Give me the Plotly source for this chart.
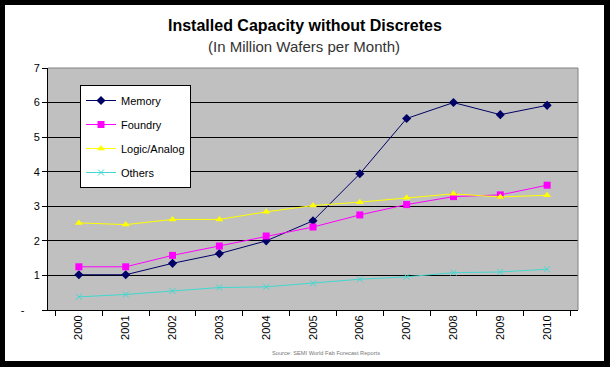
import plotly.graph_objects as go

years = ["2000", "2001", "2002", "2003", "2004", "2005", "2006", "2007", "2008", "2009", "2010"]
memory = [1.02, 1.02, 1.35, 1.63, 2.00, 2.58, 3.94, 5.54, 6.00, 5.65, 5.92]
foundry = [1.25, 1.25, 1.58, 1.85, 2.14, 2.40, 2.75, 3.05, 3.28, 3.33, 3.61]
logic = [2.52, 2.47, 2.62, 2.62, 2.84, 3.02, 3.12, 3.25, 3.36, 3.27, 3.32]
others = [0.38, 0.45, 0.55, 0.65, 0.67, 0.77, 0.89, 0.96, 1.08, 1.10, 1.18]
y_ticks = [0, 1, 2, 3, 4, 5, 6, 7]
y_labels = ["-\u00a0\u00a0\u00a0\u00a0\u00a0", "1", "2", "3", "4", "5", "6", "7"]

W, H = 610, 367
L, R, T, B = 48, 578, 68, 310  # plot area in pixels


def px(x):
    return (x - L) / (R - L)


def py(y):
    return (B - y) / (B - T)


FONT = "Liberation Sans, Arial, sans-serif"

fig = go.Figure()
fig.add_trace(go.Scatter(x=years, y=memory, name="Memory", mode="lines+markers",
                         line=dict(color="#000066", width=1),
                         marker=dict(symbol="diamond", size=7, color="#000066"),
                         legendgroup="a"))
fig.add_trace(go.Scatter(x=years, y=foundry, name="Foundry", mode="lines+markers",
                         line=dict(color="#FF00FF", width=1),
                         marker=dict(symbol="square", size=7, color="#FF00FF"),
                         legendgroup="b"))
fig.add_trace(go.Scatter(x=years, y=logic, name="Logic/Analog", mode="lines+markers",
                         line=dict(color="#FFFF00", width=1),
                         marker=dict(symbol="triangle-up", size=7, color="#FFFF00"),
                         legendgroup="c"))
fig.add_trace(go.Scatter(x=years, y=others, name="Others", mode="lines+markers",
                         line=dict(color="#40D8D0", width=1),
                         marker=dict(symbol="x-thin", size=6, color="#40D8D0",
                                     line=dict(color="#40D8D0", width=1)),
                         legendgroup="d"))

frame = []
for (x0, y0, x1, y1) in [(0, 0, W, 5), (0, 361, W, H), (0, 0, 5, H), (604, 0, W, H)]:
    frame.append(dict(type="rect", xref="paper", yref="paper",
                      x0=px(x0), x1=px(x1), y0=py(y1), y1=py(y0),
                      line=dict(width=0), fillcolor="black", layer="above"))

fig.update_layout(
    width=W, height=H,
    margin=dict(l=L, r=W - R, t=T, b=H - B),
    paper_bgcolor="white",
    plot_bgcolor="#C0C0C0",
    font=dict(family=FONT, size=11, color="black"),
    showlegend=True,
    legend=dict(x=px(80), y=py(85), xanchor="left", yanchor="top",
                bgcolor="white", bordercolor="black", borderwidth=1,
                font=dict(size=11, color="black"), tracegroupgap=5,
                itemwidth=30),
    xaxis=dict(type="category", tickson="boundaries", ticks="outside", ticklen=5,
               tickcolor="black", tickangle=-90, showline=True, linecolor="black",
               linewidth=1, showgrid=False, tickfont=dict(size=11, color="black")),
    yaxis=dict(range=[0, 7], tickvals=y_ticks, ticktext=y_labels, ticks="outside",
               ticklen=5, tickcolor="black", showline=True, linecolor="black",
               linewidth=1, showgrid=True, gridcolor="black", gridwidth=1,
               zeroline=False, tickfont=dict(size=11, color="black")),
    annotations=[
        dict(text="<b>Installed Capacity without Discretes</b>", x=px(305), y=py(25),
             xref="paper", yref="paper", showarrow=False, xanchor="center", yanchor="middle",
             font=dict(size=16, color="black")),
        dict(text="(In Million Wafers per Month)", x=px(304), y=py(47),
             xref="paper", yref="paper", showarrow=False, xanchor="center", yanchor="middle",
             font=dict(size=15, color="#333333")),
        dict(text="Source: SEMI World Fab Forecast Reports", x=px(326), y=py(353),
             xref="paper", yref="paper", showarrow=False, xanchor="center", yanchor="middle",
             font=dict(size=5.7, color="#777777")),
    ],
    shapes=[
        dict(type="path", xref="paper", yref="paper", path="M0,1 L1,1 L1,0",
             line=dict(color="#808080", width=1), layer="above"),
    ] + frame,
)

fig.write_html("out.html", config={"displayModeBar": False},
               post_script="document.body.style.margin='0';document.body.style.padding='0';")
